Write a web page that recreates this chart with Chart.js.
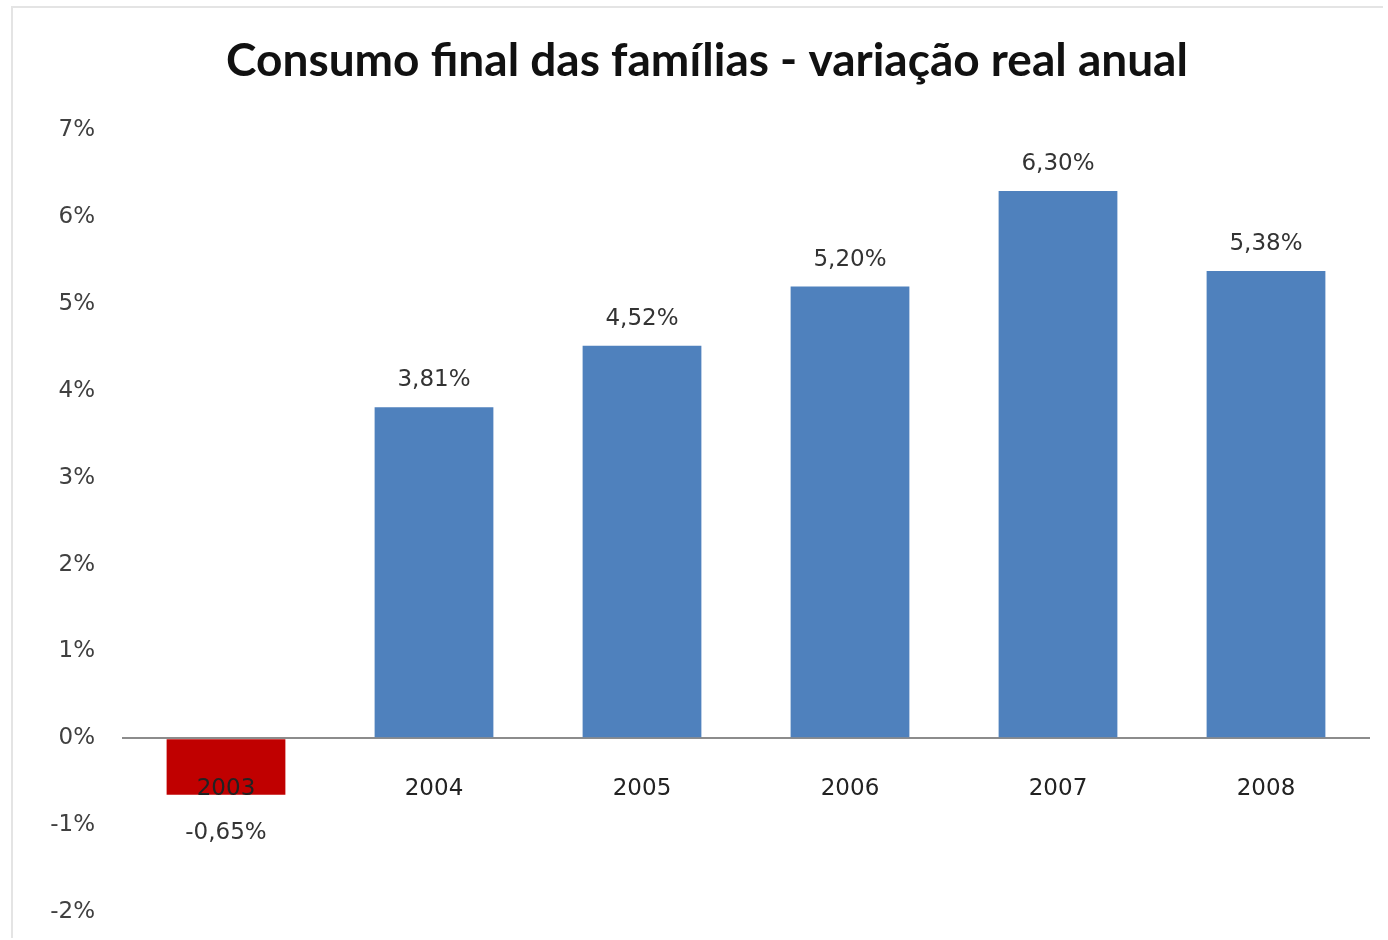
<!DOCTYPE html>
<html>
<head>
<meta charset="utf-8">
<script src="https://cdn.jsdelivr.net/npm/chart.js@4.4.1/dist/chart.umd.min.js"></script>
<style>
  html, body { margin: 0; padding: 0; background: #fff; overflow: hidden; }
  #frame { position: absolute; left: 11px; top: 6px; width: 1370px; height: 930px;
           border-top: 2px solid #e4e4e4; border-left: 2px solid #e4e4e4; }
  #wrap { position: absolute; left: 0; top: 0; width: 1388px; height: 940px; }
</style>
</head>
<body>
<div id="frame"></div>
<div id="wrap"><canvas id="chart"></canvas></div>
<script>
const titleText = 'Consumo final das famílias - variação real anual'
const years = ['2003', '2004', '2005', '2006', '2007', '2008']
const growth = [-0.65, 3.81, 4.52, 5.20, 6.30, 5.38]
const yTicks = [-2, -1, 0, 1, 2, 3, 4, 5, 6, 7]

const blue = '#4f81bd'
const red = '#c00000'

function pct(v, digits) {
    return v.toFixed(digits).replace('.', ',') + '%'
}

// draws the category names next to the zero line and the value labels
const labelsPlugin = {
    id: 'labelsPlugin',
    afterDatasetsDraw(chart) {
        const ctx = chart.ctx
        const x = chart.scales.x
        const y = chart.scales.y
        const zero = y.getPixelForValue(0)
        ctx.save()
        ctx.textAlign = 'center'
        ctx.textBaseline = 'middle'
        ctx.font = '23px "DejaVu Sans"'
        years.forEach((yr, i) => {
            ctx.fillStyle = '#222'
            ctx.fillText(yr, x.getPixelForValue(i), zero + 51)
        })
        const meta = chart.getDatasetMeta(0)
        meta.data.forEach((bar, i) => {
            const v = growth[i]
            ctx.fillStyle = '#333'
            const py = v >= 0 ? bar.y - 27 : bar.y + 38
            ctx.fillText(pct(v, 2), bar.x, py)
        })
        ctx.restore()
    }
}

const ctx = document.getElementById('chart')

new Chart(ctx, {
    type: 'bar',
    data: {
        labels: years,
        datasets: [{
            data: growth,
            backgroundColor: growth.map(v => v < 0 ? red : blue),
            borderWidth: 0,
            barPercentage: 0.571,
            categoryPercentage: 1
        }]
    },
    options: {
        responsive: true,
        maintainAspectRatio: false,
        animation: false,
        layout: { padding: { left: 44, right: 18, top: 0, bottom: 28 } },
        plugins: {
            legend: { display: false },
            tooltip: { enabled: false },
            title: {
                display: true,
                text: titleText,
                color: '#111',
                font: { family: 'Lato', size: 46, weight: 'bold', lineHeight: 1.2 },
                padding: { top: 34, bottom: 41 }
            }
        },
        scales: {
            x: {
                display: false
            },
            y: {
                min: -2,
                max: 7,
                afterFit(scale) {
                    scale.width = 78
                    scale.paddingTop = 0
                    scale.paddingBottom = 0
                },
                afterBuildTicks(scale) { scale.ticks = yTicks.map(v => ({ value: v })) },
                border: { display: false },
                grid: {
                    drawTicks: false,
                    lineWidth: 2,
                    color: c => c.tick && c.tick.value === 0 ? '#8c8c8c' : 'rgba(0,0,0,0)'
                },
                ticks: {
                    padding: 27,
                    color: '#404040',
                    font: { family: 'DejaVu Sans', size: 23 },
                    callback: v => v + '%'
                }
            }
        }
    },
    plugins: [labelsPlugin]
})
</script>
</body>
</html>
